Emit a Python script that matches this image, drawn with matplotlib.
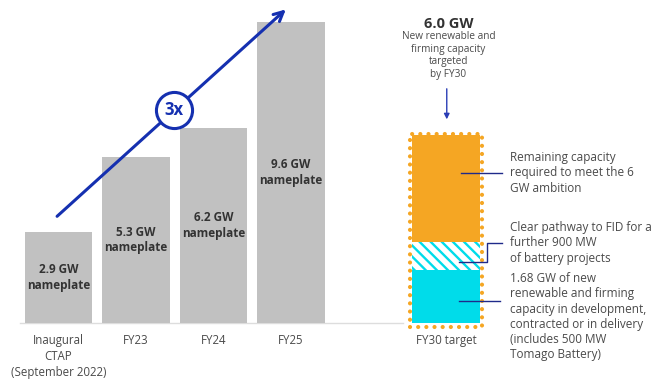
import matplotlib
matplotlib.use("Agg")
import matplotlib.pyplot as plt

plt.rcParams['font.family'] = ['Open Sans', 'DejaVu Sans']
plt.rcParams['hatch.linewidth'] = 1.7

# history bars (GW nameplate)
categories = ["Inaugural\nCTAP\n(September 2022)", "FY23", "FY24", "FY25"]
values = [2.9, 5.3, 6.2, 9.6]
bar_labels = ["2.9 GW\nnameplate", "5.3 GW\nnameplate", "6.2 GW\nnameplate", "9.6 GW\nnameplate"]

# FY30 target stack (GW)
target_label = "FY30 target"
target_total = 6.0
in_delivery = 1.68
battery_pathway = 0.9
remaining = target_total - in_delivery - battery_pathway

GRAY = "#c1c1c1"
ORANGE = "#f5a623"
CYAN = "#00dcea"
BLUE = "#1530b0"
NAVY = "#1f2a8a"
TXT = "#4a4a4a"

fig = plt.figure(figsize=(6.66, 3.8), dpi=100)
ax = fig.add_axes([0, 0, 1, 1])
ax.set_xlim(-0.755, 7.839)
ax.set_ylim(-1.815, 10.29)
ax.axis("off")

w = 0.865
xs = list(range(len(values)))
ax.bar(xs, values, width=w, color=GRAY, zorder=2)
for x, v, lab in zip(xs, values, bar_labels):
    ax.text(x, v / 2, lab, ha="center", va="center", fontsize=8.5,
            fontweight="bold", color="#333333", linespacing=1.25, zorder=3)

# baseline
ax.plot([-0.5, 4.45], [0, 0], color="#dddddd", lw=1, zorder=1)

# category labels
for x, c in zip(xs, categories):
    ax.text(x, -0.36, c, ha="center", va="top", fontsize=8.3, color=TXT, linespacing=1.3)

# target stack
xt = 5
ax.bar(xt, in_delivery, width=w, color=CYAN, zorder=2)
ax.bar(xt, battery_pathway, bottom=in_delivery, width=w, facecolor="white",
       edgecolor=CYAN, hatch="\\\\\\", linewidth=0, zorder=2)
ax.bar(xt, remaining, bottom=in_delivery + battery_pathway, width=w, color=ORANGE, zorder=2)

# dotted outline round the target
pad_x, pad_y = 0.035, 0.14
x0, x1 = xt - w / 2 - pad_x, xt + w / 2 + pad_x
y0, y1 = -pad_y, target_total + 0.03
ax.plot([x0, x1, x1, x0, x0], [y0, y0, y1, y1, y0], color=ORANGE, lw=3,
        linestyle=(0, (0.01, 1.95)), dash_capstyle="round", zorder=3)
ax.text(xt, -0.36, target_label, ha="center", va="top", fontsize=8.3, color=TXT)

# headline above target
ax.text(xt + 0.03, 9.52, "%.1f GW" % target_total, ha="center", va="center",
        fontsize=10.5, fontweight="bold", color="#333333")
ax.text(xt + 0.03, 9.3, "New renewable and\nfirming capacity\ntargeted\nby FY30",
        ha="center", va="top", fontsize=7.2, color=TXT, linespacing=1.2)
ax.annotate("", xy=(xt + 0.01, 6.4), xytext=(xt + 0.01, 7.55),
            arrowprops=dict(arrowstyle="-|>", color="#2a3db5", lw=1, mutation_scale=8))

# growth arrow
ax.annotate("", xy=(2.96, 10.05), xytext=(-0.045, 3.34),
            arrowprops=dict(arrowstyle="->", color=BLUE, lw=2.2, mutation_scale=17))
ax.plot([1.49], [6.78], marker="o", markersize=26, markerfacecolor="white",
        markeredgecolor=BLUE, markeredgewidth=2.2, zorder=5)
ax.text(1.49, 6.78, "3x", ha="center", va="center", fontsize=12,
        fontweight="bold", color=BLUE, zorder=6)

# callouts
tx = 5.83
ax.plot([5.19, 5.72], [4.78, 4.78], color=NAVY, lw=1, zorder=4)
ax.text(tx, 4.78, "Remaining capacity\nrequired to meet the 6\nGW ambition",
        ha="left", va="center", fontsize=8.5, color=TXT, linespacing=1.22)

ax.plot([5.17, 5.53, 5.53, 5.72], [1.94, 1.94, 2.55, 2.55], color=NAVY, lw=1, zorder=4)
ax.text(tx, 2.55, "Clear pathway to FID for a\nfurther 900 MW\nof battery projects",
        ha="left", va="center", fontsize=8.5, color=TXT, linespacing=1.22)

ax.plot([5.17, 5.70], [0.70, 0.70], color=NAVY, lw=1, zorder=4)
ax.text(tx, 1.62, "1.68 GW of new\nrenewable and firming\ncapacity in development,\n"
        "contracted or in delivery\n(includes 500 MW\nTomago Battery)",
        ha="left", va="top", fontsize=8.5, color=TXT, linespacing=1.22)

fig.savefig("out.png", dpi=100)
